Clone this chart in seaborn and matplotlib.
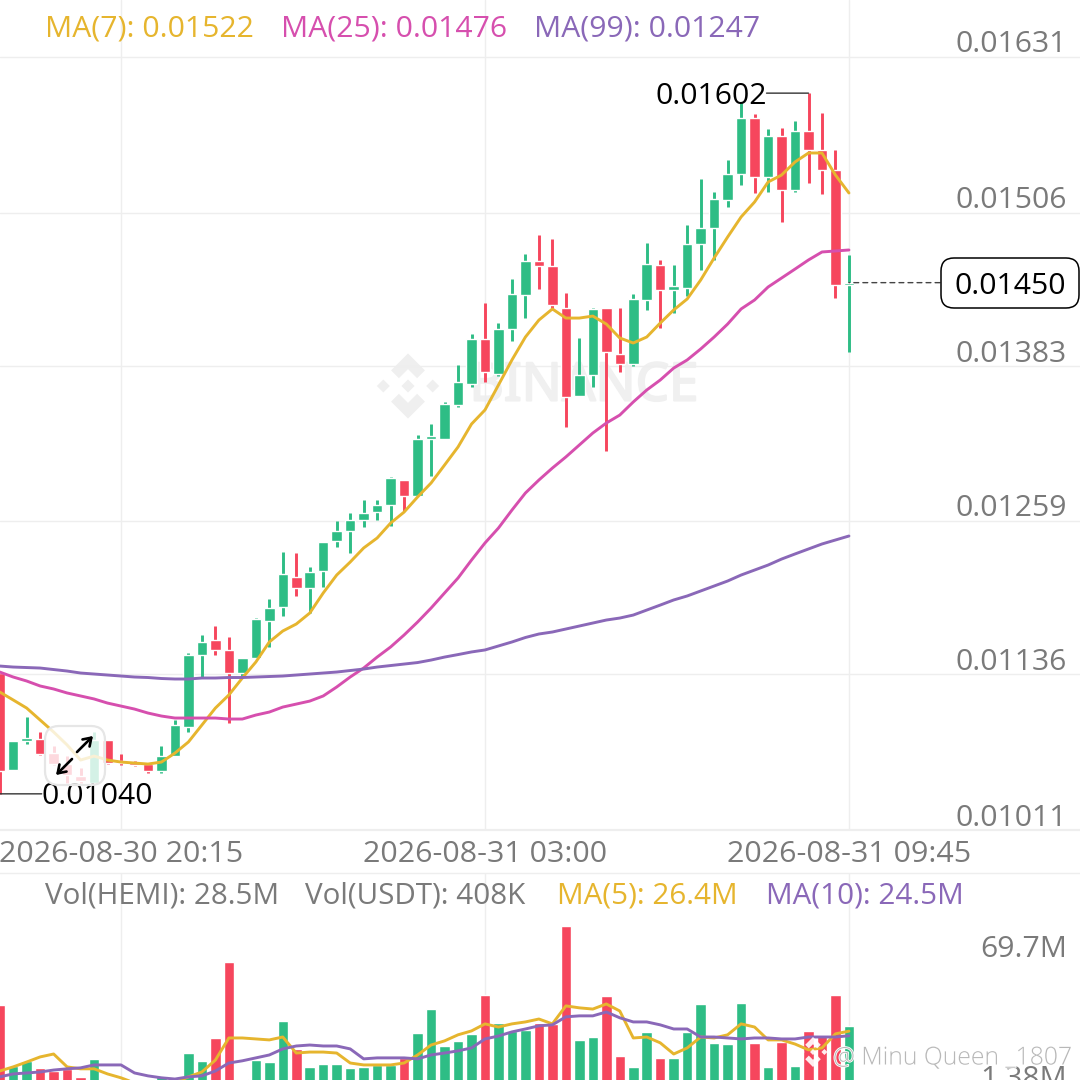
import matplotlib
matplotlib.use("Agg")
import matplotlib.pyplot as plt
import matplotlib.patheffects as pe
from matplotlib.patches import FancyBboxPatch, Polygon
import numpy as np
import pandas as pd
import seaborn as sns

# HEMI/USDT 15m candles
opens = [0.01137, 0.01059, 0.01082, 0.01084, 0.01073, 0.01064, 0.01054, 0.01049, 0.01083, 0.01066, 0.01065, 0.01064,
         0.01058, 0.01070, 0.01094, 0.01151, 0.01163, 0.01155, 0.01137, 0.01149, 0.01179, 0.01190, 0.01214, 0.01205,
         0.01219, 0.01243, 0.01251, 0.01260, 0.01266, 0.01272, 0.01292, 0.01279, 0.01325, 0.01325, 0.01352, 0.01369,
         0.01405, 0.01377, 0.01413, 0.01440, 0.01467, 0.01463, 0.01430, 0.01359, 0.01376, 0.01430, 0.01393, 0.01385,
         0.01436, 0.01464, 0.01444, 0.01446, 0.01481, 0.01494, 0.01516, 0.01537, 0.01582, 0.01535, 0.01568, 0.01524,
         0.01572, 0.01556, 0.01540, 0.01448]
closes = [0.01058, 0.01082, 0.01085, 0.01072, 0.01064, 0.01055, 0.01050, 0.01083, 0.01065, 0.01065, 0.01063, 0.01058,
          0.01070, 0.01095, 0.01151, 0.01162, 0.01155, 0.01137, 0.01149, 0.01180, 0.01189, 0.01216, 0.01205, 0.01218,
          0.01242, 0.01251, 0.01260, 0.01265, 0.01272, 0.01293, 0.01279, 0.01325, 0.01327, 0.01353, 0.01370, 0.01405,
          0.01378, 0.01413, 0.01441, 0.01467, 0.01463, 0.01432, 0.01358, 0.01376, 0.01429, 0.01394, 0.01385, 0.01437,
          0.01465, 0.01444, 0.01447, 0.01481, 0.01494, 0.01517, 0.01537, 0.01582, 0.01535, 0.01568, 0.01524, 0.01572,
          0.01556, 0.01540, 0.01448, 0.01450]
highs = [0.01137, 0.01082, 0.01102, 0.01090, 0.01078, 0.01070, 0.01061, 0.01090, 0.01083, 0.01072, 0.01066, 0.01065,
         0.01078, 0.01099, 0.01153, 0.01167, 0.01175, 0.01166, 0.01149, 0.01181, 0.01196, 0.01234, 0.01233, 0.01222,
         0.01242, 0.01259, 0.01265, 0.01276, 0.01276, 0.01294, 0.01292, 0.01328, 0.01337, 0.01354, 0.01384, 0.01409,
         0.01434, 0.01418, 0.01453, 0.01473, 0.01488, 0.01485, 0.01442, 0.01406, 0.01430, 0.01430, 0.01430, 0.01441,
         0.01482, 0.01468, 0.01464, 0.01496, 0.01533, 0.01523, 0.01548, 0.01595, 0.01585, 0.01573, 0.01574, 0.01580,
         0.01602, 0.01586, 0.01556, 0.01472]
lows = [0.01040, 0.01059, 0.01080, 0.01071, 0.01063, 0.01049, 0.01049, 0.01049, 0.01064, 0.01063, 0.01062, 0.01057,
        0.01057, 0.01070, 0.01090, 0.01134, 0.01151, 0.01097, 0.01133, 0.01149, 0.01158, 0.01183, 0.01199, 0.01185,
        0.01206, 0.01238, 0.01233, 0.01254, 0.01260, 0.01255, 0.01267, 0.01279, 0.01295, 0.01325, 0.01350, 0.01366,
        0.01370, 0.01375, 0.01403, 0.01422, 0.01445, 0.01428, 0.01334, 0.01359, 0.01366, 0.01315, 0.01378, 0.01383,
        0.01428, 0.01414, 0.01426, 0.01439, 0.01460, 0.01468, 0.01511, 0.01528, 0.01522, 0.01523, 0.01499, 0.01523,
        0.01530, 0.01521, 0.01438, 0.01394]

ma7 = [0.011217, 0.011153, 0.011088, 0.010992, 0.010896, 0.010792, 0.010671, 0.010703, 0.010671, 0.010655, 0.010647,
       0.010639, 0.010655, 0.010727, 0.010816, 0.010952, 0.011088, 0.011193, 0.011329, 0.011457, 0.011618, 0.011706,
       0.011762, 0.011850, 0.012011, 0.012155, 0.012259, 0.012372, 0.012452, 0.012572, 0.012660, 0.012781, 0.012893,
       0.013037, 0.013182, 0.013366, 0.013479, 0.013679, 0.013880, 0.014064, 0.014200, 0.014289, 0.014216, 0.014216,
       0.014232, 0.014168, 0.014056, 0.014016, 0.014064, 0.014176, 0.014281, 0.014369, 0.014521, 0.014698, 0.014866,
       0.015027, 0.015147, 0.015307, 0.015363, 0.015468, 0.015540, 0.015540, 0.015363, 0.015219]
ma25 = [0.011377, 0.011337, 0.011305, 0.011265, 0.011241, 0.011209, 0.011185, 0.011161, 0.011128, 0.011104, 0.011080,
        0.011048, 0.011024, 0.011008, 0.011008, 0.011008, 0.011008, 0.011000, 0.011000, 0.011032, 0.011056, 0.011096,
        0.011120, 0.011144, 0.011185, 0.011257, 0.011337, 0.011409, 0.011497, 0.011578, 0.011674, 0.011778, 0.011890,
        0.012011, 0.012131, 0.012275, 0.012412, 0.012532, 0.012676, 0.012813, 0.012917, 0.013013, 0.013102, 0.013198,
        0.013294, 0.013374, 0.013438, 0.013543, 0.013639, 0.013719, 0.013815, 0.013880, 0.013968, 0.014064, 0.014168,
        0.014289, 0.014361, 0.014465, 0.014537, 0.014609, 0.014682, 0.014746, 0.014754, 0.014762]
ma99 = [0.011425, 0.011417, 0.011413, 0.011409, 0.011397, 0.011385, 0.011369, 0.011361, 0.011353, 0.011345, 0.011337,
        0.011333, 0.011325, 0.011321, 0.011321, 0.011329, 0.011329, 0.011333, 0.011333, 0.011337, 0.011341, 0.011345,
        0.011353, 0.011361, 0.011369, 0.011377, 0.011389, 0.011401, 0.011417, 0.011429, 0.011441, 0.011453, 0.011473,
        0.011497, 0.011517, 0.011538, 0.011554, 0.011586, 0.011618, 0.011654, 0.011682, 0.011698, 0.011722, 0.011746,
        0.011770, 0.011794, 0.011810, 0.011834, 0.011874, 0.011914, 0.011955, 0.011987, 0.012027, 0.012067, 0.012107,
        0.012155, 0.012195, 0.012235, 0.012283, 0.012324, 0.012364, 0.012404, 0.012436, 0.012468]

# volume in millions
volume = [37.2, 12.1, 14.2, 11.3, 10.0, 10.9, 7.6, 15.0, 4.3, 4.0, 2.2, 5.5, 8.0, 5.5, 17.4, 14.2, 23.6, 54.9, 6.7, 14.5,
          13.7, 30.6, 19.1, 11.7, 12.9, 12.9, 11.3, 11.7, 12.5, 12.5, 15.4, 25.7, 35.5, 20.3, 22.4, 25.3, 41.3, 29.8,
          26.5, 26.9, 29.8, 29.4, 69.7, 22.8, 24.0, 40.9, 16.2, 11.7, 26.1, 15.4, 15.4, 26.1, 37.6, 21.6, 21.1, 38.0,
          21.6, 11.7, 22.0, 12.1, 26.5, 24.9, 41.3, 28.5]
vol_ma5 = [10.0, 11.7, 13.7, 15.8, 17.0, 11.7, 10.9, 10.9, 8.8, 7.2, 5.1, 2.2, 2.2, 5.1, 7.6, 9.6, 14.5, 23.6, 23.6, 23.2,
           22.8, 24.0, 17.4, 17.8, 17.8, 17.4, 13.3, 12.5, 12.5, 12.5, 13.3, 16.6, 20.7, 22.4, 24.9, 26.5, 29.4, 28.1,
           29.4, 30.2, 31.4, 29.4, 36.8, 36.0, 35.5, 37.6, 34.7, 23.6, 24.0, 21.6, 17.0, 19.5, 24.0, 23.6, 24.9, 29.4,
           28.1, 22.8, 22.8, 21.1, 18.7, 19.5, 25.3, 26.4]
vol_ma10 = [7.6, 8.8, 9.2, 9.6, 10.4, 10.9, 11.3, 12.5, 12.5, 12.5, 9.2, 8.0, 7.2, 6.7, 7.6, 8.0, 10.0, 13.3, 14.2, 15.4,
            16.6, 19.1, 20.3, 20.7, 20.3, 20.3, 19.1, 15.0, 15.4, 15.4, 15.4, 15.0, 16.6, 17.4, 18.3, 19.5, 23.2, 24.4,
            26.1, 27.3, 28.6, 29.0, 32.3, 32.7, 32.7, 34.3, 31.9, 30.2, 30.2, 29.0, 27.3, 27.3, 24.0, 24.0, 23.6, 23.2,
            23.6, 23.6, 23.2, 23.2, 24.0, 24.0, 24.0, 24.5]

price_levels = [0.01631, 0.01506, 0.01383, 0.01259, 0.01136, 0.01011]
volume_levels = [69.7, 1.38]
time_ticks = [9, 36, 63]
time_labels = ["2026-08-30 20:15", "2026-08-31 03:00", "2026-08-31 09:45"]

GREEN = "#2EBD85"
RED = "#F6465D"
YELLOW = "#E6B52E"
PINK = "#D64FAE"
PURPLE = "#8A68B8"
GRID = "#EEEEEE"
TEXT = "#7A7A7A"
FONT = ["Open Sans", "DejaVu Sans"]
LABEL_SIZE = 21.7

sns.set_theme(style="white")
plt.rcParams["font.family"] = FONT

df = pd.DataFrame({"i": range(len(opens)), "open": opens, "close": closes, "high": highs, "low": lows,
                   "ma7": ma7, "ma25": ma25, "ma99": ma99,
                   "vol": volume, "vol_ma5": vol_ma5, "vol_ma10": vol_ma10})
df["dir"] = np.where(df["close"] >= df["open"], "up", "down")
palette = {"up": GREEN, "down": RED}

W, H = 1080.0, 1080.0
fig = plt.figure(figsize=(10.8, 10.8), dpi=100, facecolor="white")


def pixel_axes(zorder):
    a = fig.add_axes([0, 0, 1, 1], zorder=zorder)
    a.set_xlim(0, W)
    a.set_ylim(H, 0)
    a.axis("off")
    a.patch.set_alpha(0)
    return a


def binance_logo(a, cx, cy, s, color, **kw):
    # centre and side diamonds plus the two chevrons
    for dx, dy, r in [(0, 0, 0.2), (-0.76, 0, 0.2), (0.76, 0, 0.2)]:
        pts = [(dx, dy + r), (dx + r, dy), (dx, dy - r), (dx - r, dy)]
        a.add_patch(Polygon([(cx + s * x, cy + s * y) for x, y in pts], fc=color, ec="none", **kw))
    for sign in (1, -1):
        pts = [(0, 1), (0.52, 0.48), (0.28, 0.24), (0, 0.52), (-0.28, 0.24), (-0.52, 0.48)]
        a.add_patch(Polygon([(cx + s * x, cy + sign * s * y) for x, y in pts], fc=color, ec="none", **kw))


def callout(a, x, y, dx, label=None):
    # flat leader from a candle extreme, label drawn a touch lower to sit on the line
    a.annotate("", xy=(x, y), xytext=(dx, 0), textcoords="offset pixels", annotation_clip=False,
               arrowprops=dict(arrowstyle="-", color="#333333", lw=1.0, shrinkA=0, shrinkB=0), zorder=6)
    if label:
        a.annotate(label, xy=(x, y), xytext=(dx, -3), textcoords="offset pixels", ha="right" if dx < 0 else "left",
                   va="center", fontsize=LABEL_SIZE, color="black", zorder=6, annotation_clip=False)


back = pixel_axes(0)
binance_logo(back, 408, 386, 32.5, "#EFEFEF")
back.text(584, 387, "BINANCE", fontsize=38, fontweight="bold", color="#F0F0F0", ha="center", va="center",
          family=["Noto Sans", "DejaVu Sans"], path_effects=[pe.withStroke(linewidth=1.5, foreground="#F0F0F0")])

# price panel, 0..830 px of the image
ax = fig.add_axes([0, (H - 830) / H, 1, 830 / H], zorder=1)
ax.patch.set_alpha(0)
# volume panel, 873..1080 px
vax = fig.add_axes([0, 0, 1, (H - 873) / H], sharex=ax, zorder=1)
vax.patch.set_alpha(0)

x_left, x_right = 0.022, 80.14

ax.vlines(df["i"], df["low"], df["high"], colors=df["dir"].map(palette), lw=2.1, zorder=3)
ax.bar(df["i"], (df["close"] - df["open"]).abs(), bottom=df[["open", "close"]].min(axis=1), width=0.78,
       color=df["dir"].map(palette), zorder=3)

for col, c in [("ma7", YELLOW), ("ma25", PINK), ("ma99", PURPLE)]:
    sns.lineplot(data=df, x="i", y=col, color=c, lw=2.1, ax=ax, errorbar=None, estimator=None, zorder=4)

sns.barplot(data=df, x="i", y="vol", hue="dir", palette=palette, hue_order=["up", "down"], native_scale=True,
            dodge=False, width=0.78, saturation=1, errorbar=None, legend=False, ax=vax, zorder=3)
sns.lineplot(data=df, x="i", y="vol_ma5", color=YELLOW, lw=2.1, ax=vax, errorbar=None, estimator=None, zorder=4)
sns.lineplot(data=df, x="i", y="vol_ma10", color=PURPLE, lw=2.1, ax=vax, errorbar=None, estimator=None, zorder=4)

ax.set_xlim(x_left, x_right)
ax.set_ylim(0.01011, 0.016767)
vax.set_ylim(6.3, 91.5)

for a in (ax, vax):
    a.set_xlabel("")
    a.set_ylabel("")
    a.set_xticks(time_ticks)
    a.grid(True, axis="x", color=GRID, lw=1.0, zorder=0)
    a.set_axisbelow(True)
    for side in ("top", "left", "right", "bottom"):
        a.spines[side].set_visible(False)
ax.set_yticks(price_levels)
ax.grid(True, axis="y", color=GRID, lw=1.0)
ax.set_yticklabels([])
ax.spines["bottom"].set_visible(True)
ax.spines["bottom"].set_color(GRID)
ax.spines["bottom"].set_linewidth(1.6)
vax.spines["top"].set_visible(True)
vax.spines["top"].set_color(GRID)
vax.spines["top"].set_linewidth(1.0)
vax.set_yticks([])
ax.tick_params(axis="x", length=0, labelbottom=True, pad=7.5, labelsize=LABEL_SIZE + 0.2, labelcolor=TEXT)
ax.tick_params(axis="y", length=0)
ax.set_xticklabels(time_labels)
vax.tick_params(axis="x", length=0, labelbottom=False)

# right side scale labels sit above their grid lines
for lev in price_levels:
    ax.annotate(f"{lev:.5f}", xy=(1, lev), xycoords=ax.get_yaxis_transform(), xytext=(-13, 12),
                textcoords="offset pixels", ha="right", va="center", fontsize=LABEL_SIZE, color=TEXT,
                annotation_clip=False)
vax.annotate(f"{volume_levels[0]}M", xy=(1, volume_levels[0]), xycoords=vax.get_yaxis_transform(), xytext=(-13, -24),
             textcoords="offset pixels", ha="right", va="center", fontsize=LABEL_SIZE, color=TEXT,
             annotation_clip=False)
vax.annotate(f"{volume_levels[1]}M", xy=(1, volume_levels[1]), xycoords=vax.get_yaxis_transform(), xytext=(-13, 12.5),
             textcoords="offset pixels", ha="right", va="center", fontsize=LABEL_SIZE, color=TEXT,
             annotation_clip=False)

# high / low / last price callouts
hi = int(np.argmax(highs))
lo = int(np.argmin(lows))
callout(ax, hi, highs[hi], -42, f"{highs[hi]:.5f}")
callout(ax, lo, lows[lo], 42, f"{lows[lo]:.5f}")
ax.annotate("", xy=(df["i"].iloc[-1], closes[-1]), xytext=(91, 0), textcoords="offset pixels", annotation_clip=False,
            arrowprops=dict(arrowstyle="-", color="#444444", lw=1.0, linestyle=(0, (3.5, 3)), shrinkA=0, shrinkB=0))

top = pixel_axes(3)
top.add_patch(FancyBboxPatch((953, 270), 114, 26, boxstyle="round,pad=12,rounding_size=13", fc="white", ec="black",
                             lw=1.1))
top.text(1010, 286, f"{closes[-1]:.5f}", fontsize=LABEL_SIZE, color="black", ha="center", va="center")

for x0, s, c in [(45, f"MA(7): {ma7[-1]:.5f}", YELLOW), (281, f"MA(25): {ma25[-1]:.5f}", PINK),
                 (534, f"MA(99): {ma99[-1]:.5f}", PURPLE)]:
    top.text(x0, 29, s, color=c, fontsize=LABEL_SIZE, ha="left", va="center")
for x0, s, c in [(45, "Vol(HEMI): 28.5M", TEXT), (305, "Vol(USDT): 408K", TEXT), (557, "MA(5): 26.4M", YELLOW),
                 (766, "MA(10): 24.5M", PURPLE)]:
    top.text(x0, 896, s, color=c, fontsize=LABEL_SIZE - 0.4, ha="left", va="center")

# expand chart button
top.add_patch(FancyBboxPatch((50, 731), 50, 49, boxstyle="round,pad=5,rounding_size=14", fc=(1, 1, 1, 0.8),
                             ec="#E6E6E6", lw=1.6))
for a0, a1 in [((77, 752), (93, 736)), ((72, 759), (56, 775))]:
    top.annotate("", xy=a1, xytext=a0, arrowprops=dict(arrowstyle="->,head_length=0.45,head_width=0.3", color="black",
                                                       lw=1.9, shrinkA=0, shrinkB=0))

# screenshot watermark, bottom right
binance_logo(top, 813, 1052, 15, "white", alpha=0.9)
top.text(833, 1058, "@ Minu Queen _1807", color="#B8B8B8", fontsize=17.8, ha="left", va="center", fontweight="light",
         path_effects=[pe.withStroke(linewidth=1.2, foreground="white")])

fig.savefig("out.png", dpi=100, facecolor="white")
